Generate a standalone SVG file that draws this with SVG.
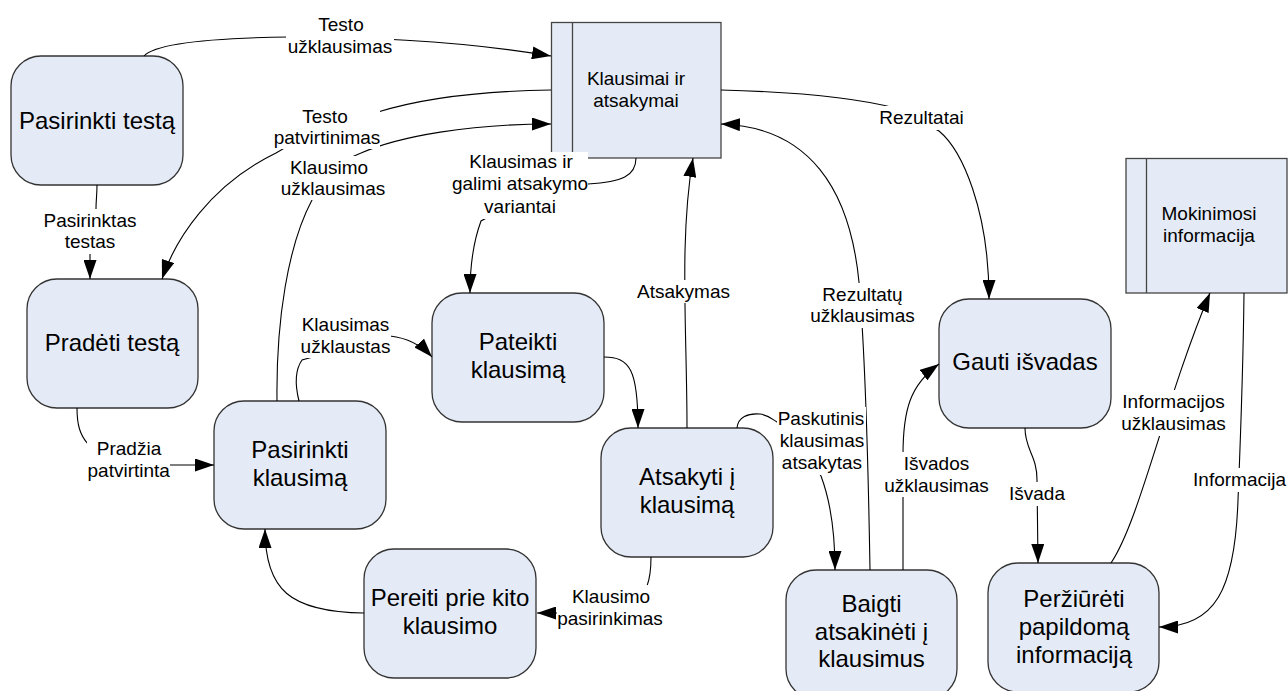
<svg xmlns="http://www.w3.org/2000/svg" width="1288" height="691" viewBox="0 0 1288 691">
  <defs>
    <marker id="arrow" markerUnits="userSpaceOnUse" viewBox="0 0 19 13" refX="19" refY="6.5" markerWidth="19" markerHeight="13" orient="auto">
      <path d="M0,0 L19,6.5 L0,13 z" fill="#000"/>
    </marker>
    <style>
      .proc { fill: #e5ebf6; stroke: #333; stroke-width: 1.3; }
      .store { fill: #e5ebf6; stroke: #444; stroke-width: 1.3; }
      .ptxt { font-family: "Liberation Sans", Arial, sans-serif; font-size: 24px; fill: #000; text-anchor: middle; }
      .stxt { font-family: "Liberation Sans", Arial, sans-serif; font-size: 19px; fill: #000; text-anchor: middle; }
      .flow { fill: none; stroke: #000; stroke-width: 1.1; }
      .arr { marker-end: url(#arrow); }
      .lblbg { fill: #fff; }
      .ltxt { font-family: "Liberation Sans", Arial, sans-serif; font-size: 19px; fill: #000; text-anchor: middle; }
    </style>
  </defs>

  <rect width="1288" height="691" fill="#fff"/>

  <!-- processes -->
  <g id="pasirinkti-testa">
    <rect class="proc" x="11" y="56" width="172" height="129" rx="30"/>
    <text class="ptxt" x="97" y="129">Pasirinkti testą</text>
  </g>
  <g id="pradeti-testa">
    <rect class="proc" x="27" y="279" width="171" height="129" rx="30"/>
    <text class="ptxt" x="112" y="351">Pradėti testą</text>
  </g>
  <g id="pasirinkti-klausima">
    <rect class="proc" x="214" y="401" width="172" height="128" rx="30"/>
    <text class="ptxt" x="300" y="458">Pasirinkti</text>
    <text class="ptxt" x="300" y="486">klausimą</text>
  </g>
  <g id="pateikti-klausima">
    <rect class="proc" x="432" y="293" width="172" height="129" rx="30"/>
    <text class="ptxt" x="518" y="350">Pateikti</text>
    <text class="ptxt" x="518" y="378">klausimą</text>
  </g>
  <g id="atsakyti-i-klausima">
    <rect class="proc" x="601" y="428" width="172" height="129" rx="30"/>
    <text class="ptxt" x="687" y="485">Atsakyti į</text>
    <text class="ptxt" x="687" y="513">klausimą</text>
  </g>
  <g id="pereiti-prie-kito">
    <rect class="proc" x="364" y="549" width="172" height="129" rx="30"/>
    <text class="ptxt" x="450" y="606">Pereiti prie kito</text>
    <text class="ptxt" x="450" y="634">klausimo</text>
  </g>
  <g id="baigti-atsakineti">
    <rect class="proc" x="786" y="570" width="171" height="129" rx="30"/>
    <text class="ptxt" x="871.5" y="612">Baigti</text>
    <text class="ptxt" x="871.5" y="640">atsakinėti į</text>
    <text class="ptxt" x="871.5" y="667">klausimus</text>
  </g>
  <g id="gauti-isvadas">
    <rect class="proc" x="939" y="299" width="172" height="129" rx="30"/>
    <text class="ptxt" x="1025" y="370">Gauti išvadas</text>
  </g>
  <g id="perziureti-informacija">
    <rect class="proc" x="988" y="563" width="171" height="129" rx="30"/>
    <text class="ptxt" x="1074" y="607">Peržiūrėti</text>
    <text class="ptxt" x="1074" y="635">papildomą</text>
    <text class="ptxt" x="1074" y="663">informaciją</text>
  </g>

  <!-- data stores -->
  <g id="klausimai-ir-atsakymai">
    <rect class="store" x="551.5" y="22.5" width="169.5" height="135.5"/>
    <line class="store" x1="572.5" y1="22.5" x2="572.5" y2="158"/>
    <text class="stxt" x="636" y="85">Klausimai ir</text>
    <text class="stxt" x="636" y="107">atsakymai</text>
  </g>
  <g id="mokinimosi-informacija">
    <rect class="store" x="1126" y="158.5" width="161" height="134.5"/>
    <line class="store" x1="1146.5" y1="158.5" x2="1146.5" y2="293"/>
    <text class="stxt" x="1209" y="220">Mokinimosi</text>
    <text class="stxt" x="1209" y="242">informacija</text>
  </g>

  <!-- data flows -->
  <g id="connectors">
    <path class="flow arr" d="M144,56 C155,44 210,38 290,37 C400,37 480,44 551,56"/>
    <path class="flow arr" d="M551,90 C480,91 420,99 378,112 C330,127 300,138 276,153 C210,185 175,240 162,279"/>
    <path class="flow arr" d="M277,401 C276,320 288,245 312,200 C328,172 343,160 361,153 C400,136 470,124 551,124"/>
    <path class="flow arr" d="M636,158 C636,176 622,182 588,184 L520,200 L481,221 C474,240 470,262 470,293"/>
    <path class="flow arr" d="M299,401 C295,385 295,370 302,360 L390,336 C408,338 422,346 432,357"/>
    <path class="flow arr" d="M77,408 C77,425 80,435 88,444 L170,465 L214,465"/>
    <path class="flow arr" d="M97,185 C97,195 96,200 96,209 L90,255 L90,279"/>
    <path class="flow arr" d="M364,613 C290,612 265,590 265,529"/>
    <path class="flow arr" d="M651,557 C651,570 650,578 647,586 L600,613 L537,613"/>
    <path class="flow arr" d="M604,357 C630,357 638,370 638,428"/>
    <path class="flow arr" d="M687,428 C687,330 679,240 693,158"/>
    <path class="flow arr" d="M870,570 C868,450 864,340 859,282 C850,190 810,127 721,124"/>
    <path class="flow arr" d="M721,90 C800,92 860,99 895,108 L939,131 C962,150 989,210 989,299"/>
    <path class="flow arr" d="M737,428 C738,417 748,413 760,414 C768,415 772,419 777,422 L821,476 C830,500 835,530 835,570"/>
    <path class="flow arr" d="M903,570 L903,455 C903,410 910,385 939,364"/>
    <path class="flow arr" d="M1025,428 C1025,450 1037,455 1037,480 L1038,563"/>
    <path class="flow arr" d="M1111,563 C1140,520 1165,400 1210,293"/>
    <path class="flow arr" d="M1244,293 C1243,380 1240,450 1238,500 C1235,590 1215,627 1159,627"/>

    <!-- flow labels -->
    <g id="lbl-testo-uzklausimas">
      <rect class="lblbg" x="286" y="14" width="108" height="45"/>
      <text class="ltxt" x="341" y="31">Testo</text>
      <text class="ltxt" x="340" y="53">užklausimas</text>
    </g>
    <g id="lbl-testo-patvirtinimas">
      <rect class="lblbg" x="274" y="106" width="106" height="43"/>
      <text class="ltxt" x="325" y="123">Testo</text>
      <text class="ltxt" x="327" y="144">patvirtinimas</text>
    </g>
    <g id="lbl-klausimo-uzklausimas">
      <rect class="lblbg" x="275" y="156" width="118" height="44"/>
      <text class="ltxt" x="329" y="174">Klausimo</text>
      <text class="ltxt" x="333" y="195">užklausimas</text>
    </g>
    <g id="lbl-klausimas-galimi">
      <rect class="lblbg" x="449" y="152" width="139" height="67"/>
      <text class="ltxt" x="521" y="168">Klausimas ir</text>
      <text class="ltxt" x="520" y="190">galimi atsakymo</text>
      <text class="ltxt" x="520" y="213">variantai</text>
    </g>
    <g id="lbl-klausimas-uzklaustas">
      <rect class="lblbg" x="300" y="314" width="91" height="44"/>
      <text class="ltxt" x="345.5" y="331">Klausimas</text>
      <text class="ltxt" x="345.5" y="353">užklaustas</text>
    </g>
    <g id="lbl-pradzia">
      <rect class="lblbg" x="87" y="437" width="83" height="45"/>
      <text class="ltxt" x="129" y="455">Pradžia</text>
      <text class="ltxt" x="128.7" y="477">patvirtinta</text>
    </g>
    <g id="lbl-pasirinktas-testas">
      <rect class="lblbg" x="43" y="209" width="94" height="45"/>
      <text class="ltxt" x="90" y="227">Pasirinktas</text>
      <text class="ltxt" x="90" y="248">testas</text>
    </g>
    <g id="lbl-klausimo-pasirinkimas">
      <rect class="lblbg" x="557" y="585" width="107" height="45"/>
      <text class="ltxt" x="611" y="603">Klausimo</text>
      <text class="ltxt" x="610" y="625">pasirinkimas</text>
    </g>
    <g id="lbl-atsakymas">
      <rect class="lblbg" x="636" y="280" width="95" height="23"/>
      <text class="ltxt" x="683.5" y="298">Atsakymas</text>
    </g>
    <g id="lbl-rezultatu-uzklausimas">
      <rect class="lblbg" x="810" y="283" width="105" height="45"/>
      <text class="ltxt" x="862.5" y="301">Rezultatų</text>
      <text class="ltxt" x="862.5" y="322">užklausimas</text>
    </g>
    <g id="lbl-rezultatai">
      <rect class="lblbg" x="879" y="106" width="85" height="24"/>
      <text class="ltxt" x="921.5" y="124">Rezultatai</text>
    </g>
    <g id="lbl-paskutinis">
      <rect class="lblbg" x="777" y="407" width="89" height="68"/>
      <text class="ltxt" x="821" y="425">Paskutinis</text>
      <text class="ltxt" x="822" y="447">klausimas</text>
      <text class="ltxt" x="822" y="469">atsakytas</text>
    </g>
    <g id="lbl-isvados-uzklausimas">
      <rect class="lblbg" x="885" y="452" width="104" height="45"/>
      <text class="ltxt" x="936.5" y="470">Išvados</text>
      <text class="ltxt" x="936.5" y="492">užklausimas</text>
    </g>
    <g id="lbl-isvada">
      <rect class="lblbg" x="1009" y="482" width="57" height="24"/>
      <text class="ltxt" x="1037" y="500">Išvada</text>
    </g>
    <g id="lbl-informacijos-uzklausimas">
      <rect class="lblbg" x="1121" y="390" width="105" height="46"/>
      <text class="ltxt" x="1173.5" y="408">Informacijos</text>
      <text class="ltxt" x="1173.5" y="430">užklausimas</text>
    </g>
    <g id="lbl-informacija">
      <rect class="lblbg" x="1193" y="468" width="93" height="24"/>
      <text class="ltxt" x="1239.5" y="486">Informacija</text>
    </g>
  </g>
</svg>
